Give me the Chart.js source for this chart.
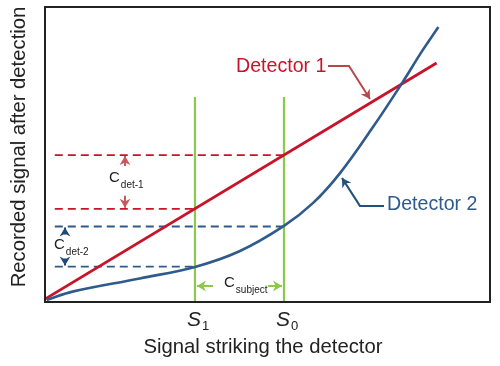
<!DOCTYPE html>
<html>
<head>
<meta charset="utf-8">
<script src="https://cdn.jsdelivr.net/npm/chart.js@4"></script>
<style>
  html, body { margin: 0; padding: 0; background: #ffffff; }
  #wrap { width: 500px; height: 366px; }
</style>
</head>
<body>
<div id="wrap"><canvas id="chart"></canvas></div>
<script>
// signal striking the detector (x) vs recorded signal (y), arbitrary units 0-100
const det1X = [0, 88];
const det1Y = [1, 81];
const det2X = [0.4, 6.4, 21.3, 33.7, 43.7, 53.7, 60.2, 66.3, 73.7, 80.4, 84.8, 88.4];
const det2Y = [0.7, 3.6, 8.0, 11.9, 17.2, 25.8, 33.5, 43.7, 59.3, 74.6, 85.2, 93.2];
const sPositions = [33.7, 53.7];           // S1, S0
const sLabels = ['1', '0'];
const greenTop = 69.5;
const dashStart = 2.2;
const det1Levels = [31.6, 49.8];           // detector 1 output at S1, S0
const det2Levels = [12.0, 25.6];           // detector 2 output at S1, S0

const RED = '#c8142a';
const BLUE = '#2f5b8c';
const GREEN = '#8cc84b';
const FONT = '"Liberation Sans", Arial, Helvetica, sans-serif';

function pts(xs, ys) {
  return xs.map((x, i) => ({ x: x, y: ys[i] }));
}

const datasets = [
  { data: pts(det2X, det2Y), borderColor: BLUE, borderWidth: 2.6, tension: 0.4 },
  { data: pts(det1X, det1Y), borderColor: RED, borderWidth: 2.8 }
];
sPositions.forEach(s => {
  datasets.push({ data: [{ x: s, y: 0 }, { x: s, y: greenTop }], borderColor: GREEN, borderWidth: 2.2 });
});
det1Levels.forEach((lv, i) => {
  datasets.push({ data: [{ x: dashStart, y: lv }, { x: sPositions[i], y: lv }], borderColor: RED, borderWidth: 1.8, borderDash: [8, 5] });
});
det2Levels.forEach((lv, i) => {
  datasets.push({ data: [{ x: dashStart, y: lv }, { x: sPositions[i], y: lv }], borderColor: BLUE, borderWidth: 1.8, borderDash: [8, 5] });
});
datasets.forEach(d => { d.showLine = true; d.pointRadius = 0; d.fill = false; });

function head(ctx, x, y, ang, size, color) {
  ctx.save();
  ctx.translate(x, y);
  ctx.rotate(ang);
  ctx.fillStyle = color;
  ctx.beginPath();
  ctx.moveTo(0, 0);
  ctx.lineTo(-size, -size * 0.6);
  ctx.lineTo(-size * 0.7, 0);
  ctx.lineTo(-size, size * 0.6);
  ctx.closePath();
  ctx.fill();
  ctx.restore();
}

function arrow(ctx, path, color, width) {
  ctx.save();
  ctx.strokeStyle = color;
  ctx.lineWidth = width;
  ctx.beginPath();
  path.forEach((p, i) => i ? ctx.lineTo(p[0], p[1]) : ctx.moveTo(p[0], p[1]));
  ctx.stroke();
  const a = path[path.length - 2], b = path[path.length - 1];
  head(ctx, b[0], b[1], Math.atan2(b[1] - a[1], b[0] - a[0]), 9, color);
  ctx.restore();
}

function subText(ctx, main, sub, x, y, mainFont, subFont, color, dy) {
  ctx.fillStyle = color;
  ctx.textBaseline = 'middle';
  ctx.textAlign = 'left';
  ctx.font = mainFont;
  ctx.fillText(main, x, y);
  const w = ctx.measureText(main).width;
  ctx.font = subFont;
  ctx.fillText(sub, x + w + 1, y + dy);
}

const annotations = {
  id: 'annotations',
  afterDatasetsDraw(chart) {
    const ctx = chart.ctx;
    const xs = chart.scales.x, ys = chart.scales.y;
    const px = v => xs.getPixelForValue(v);
    const py = v => ys.getPixelForValue(v);
    const a = chart.chartArea;

    // frame
    ctx.save();
    ctx.strokeStyle = '#222';
    ctx.lineWidth = 2;
    ctx.strokeRect(a.left, a.top, a.right - a.left, a.bottom - a.top);

    // axis titles
    ctx.fillStyle = '#222';
    ctx.font = '20.3px ' + FONT;
    ctx.textAlign = 'center';
    ctx.textBaseline = 'middle';
    ctx.fillText('Signal striking the detector', 263, 347);
    ctx.save();
    ctx.translate(19, 147);
    ctx.rotate(-Math.PI / 2);
    ctx.fillText('Recorded signal after detection', 0, 0);
    ctx.restore();

    // S labels
    sPositions.forEach((s, i) => {
      subText(ctx, 'S', sLabels[i], px(s) - 8, 320, 'italic 21px ' + FONT, '13px ' + FONT, '#222', 6);
    });

    // detector labels and callouts
    ctx.font = '19.6px ' + FONT;
    ctx.textAlign = 'left';
    ctx.fillStyle = RED;
    ctx.fillText('Detector 1', 236, 67);
    arrow(ctx, [[328, 66], [349, 66], [370, 99]], '#b8474b', 2);
    ctx.fillStyle = BLUE;
    ctx.font = '19.6px ' + FONT;
    ctx.textAlign = 'left';
    ctx.fillText('Detector 2', 387, 205);
    arrow(ctx, [[384, 206], [360, 206], [342, 178]], '#24507f', 2.2);

    // C det-1
    const xc1 = 125;
    arrow(ctx, [[xc1, py(det1Levels[1]) + 11], [xc1, py(det1Levels[1]) + 1]], '#c8585c', 2);
    arrow(ctx, [[xc1, py(det1Levels[0]) - 13], [xc1, py(det1Levels[0]) - 1]], '#c8585c', 2);
    subText(ctx, 'C', 'det-1', 109, 178, '15px ' + FONT, '10px ' + FONT, '#222', 7);

    // C det-2
    const xc2 = 65;
    arrow(ctx, [[xc2, py(det2Levels[1]) + 8], [xc2, py(det2Levels[1]) + 1]], '#1f4a78', 2);
    arrow(ctx, [[xc2, py(det2Levels[0]) - 8], [xc2, py(det2Levels[0]) - 1]], '#1f4a78', 2);
    subText(ctx, 'C', 'det-2', 54, 245, '15px ' + FONT, '10px ' + FONT, '#222', 7);

    // C subject
    arrow(ctx, [[px(sPositions[0]) + 18, 286], [px(sPositions[0]) + 2, 286]], GREEN, 2);
    arrow(ctx, [[px(sPositions[1]) - 16, 286], [px(sPositions[1]) - 2, 286]], GREEN, 2);
    subText(ctx, 'C', 'subject', 224, 283, '15px ' + FONT, '10px ' + FONT, '#222', 7);
    ctx.restore();
  }
};

new Chart(document.getElementById('chart'), {
  type: 'scatter',
  data: { datasets: datasets },
  options: {
    responsive: true,
    maintainAspectRatio: false,
    animation: false,
    layout: { padding: { left: 45, right: 10, top: 7, bottom: 64 } },
    plugins: { legend: { display: false }, tooltip: { enabled: false } },
    scales: {
      x: { type: 'linear', display: false, min: 0, max: 100 },
      y: { type: 'linear', display: false, min: 0, max: 100 }
    }
  },
  plugins: [annotations]
});
</script>
</body>
</html>
